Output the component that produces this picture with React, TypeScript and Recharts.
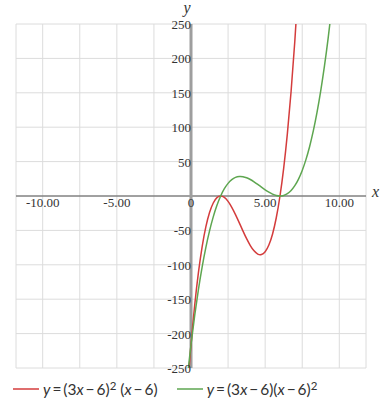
import React from 'react';
import { LineChart, Line, XAxis, YAxis, CartesianGrid, ReferenceLine, ReferenceDot } from 'recharts';

const xs = [-0.25, 0, 0.25, 0.5, 0.75, 1, 1.25, 1.5, 1.75, 2, 2.25, 2.5, 2.75, 3, 3.25, 3.5, 3.75, 4, 4.25, 4.5, 4.75, 5, 5.25, 5.5, 5.75, 6, 6.25, 6.5, 6.75, 7, 7.25, 7.5, 7.75, 8, 8.25, 8.5, 8.75, 9, 9.25, 9.5];
const redValues = [-284.77, -216, -158.48, -111.38, -73.83, -45, -24.05, -10.13, -2.39, 0, -2.11, -7.88, -16.45, -27, -38.67, -50.63, -62.02, -72, -79.73, -84.38, -85.08, -81, -71.3, -55.13, -31.64, 0, 40.64, 91.13, 152.3, 225, 310.08, 408.38];
const greenValues = [-263.67, -216, -173.58, -136.13, -103.36, -75, -50.77, -30.38, -13.55, 0, 10.55, 18.38, 23.77, 27, 28.36, 28.13, 26.58, 24, 20.67, 16.88, 12.89, 9, 5.48, 2.63, 0.7, 0, 0.8, 3.38, 8.02, 15, 24.61, 37.13, 52.83, 72, 94.92, 121.88, 153.14, 189, 229.73, 275.63];

const xDomain = [-11.8, 11.8];
const yDomain = [-250, 250];
const gridXTicks = [-10, -7.5, -5, -2.5, 0, 2.5, 5, 7.5, 10];
const gridYTicks = [-250, -200, -150, -100, -50, 0, 50, 100, 150, 200, 250];
const xLabelTicks = [-10, -5, 0, 5, 10];
const xLabelTexts = ['-10.00', '-5.00', '0', '5.00', '10.00'];
const yLabelTicks = [-250, -200, -150, -100, -50, 50, 100, 150, 200, 250];

const RED = '#d43c3c';
const GREEN = '#5ea650';

const data = xs.map((x, i) => ({
  x,
  red: i < redValues.length ? redValues[i] : null,
  green: i < greenValues.length ? greenValues[i] : null,
}));

const PlotText = (props: any) => {
  const { viewBox, text, dx = 0, dy = 0, anchor = 'middle', size = 13, italic = false, family = '"Liberation Serif", serif' } = props;
  const vb = viewBox || { x: 0, y: 0 };
  return (
    <text
      x={vb.x + (vb.width || 0) / 2 + dx}
      y={vb.y + (vb.height || 0) / 2 + dy}
      textAnchor={anchor}
      fontSize={size}
      fontFamily={family}
      fontStyle={italic ? 'italic' : 'normal'}
      fill="#333"
    >
      {text}
    </text>
  );
};

const Formula = ({ first }: { first: boolean }) => (
  <span style={{ fontFamily: 'Lato, "Noto Sans", sans-serif', fontSize: 15.5, color: '#333', whiteSpace: 'nowrap' }}>
    <i>y</i>{'\u2009=\u2009'}(3<i>x</i>{'\u2009\u2212\u2009'}6)
    {first ? (
      <>
        <sup style={{ fontSize: 11.5, verticalAlign: '0.45em', lineHeight: 0 }}>2</sup>{' '}(<i>x</i>{'\u2009\u2212\u2009'}6)
      </>
    ) : (
      <>
        (<i>x</i>{'\u2009\u2212\u2009'}6)<sup style={{ fontSize: 11.5, verticalAlign: '0.45em', lineHeight: 0 }}>2</sup>
      </>
    )}
  </span>
);

const Swatch = ({ color }: { color: string }) => (
  <svg width={26} height={4} style={{ marginRight: 4, display: 'block' }}>
    <line x1={0} y1={2} x2={26} y2={2} stroke={color} strokeWidth={1.5} />
  </svg>
);

export default function App() {
  return (
    <div style={{ position: 'absolute', left: 0, top: 0, width: 384, height: 409 }}>
      <LineChart width={384} height={409} data={data} margin={{ top: 24, right: 18, bottom: 41, left: 16 }}>
        <CartesianGrid stroke="#dcdcdc" strokeWidth={1} />
        <XAxis type="number" dataKey="x" domain={xDomain} ticks={gridXTicks} hide allowDataOverflow />
        <YAxis type="number" domain={yDomain} ticks={gridYTicks} hide allowDataOverflow />
        <ReferenceLine y={0} stroke="#555" strokeWidth={1} />
        <ReferenceLine x={0} stroke="#9e9e9e" strokeWidth={3} />
        {xLabelTicks.map((t, i) => (
          <ReferenceDot key={'xl' + t} x={t} y={0} r={0} fill="none" stroke="none"
            label={<PlotText text={xLabelTexts[i]} dy={11} anchor="middle" />} />
        ))}
        {yLabelTicks.map((t) => (
          <ReferenceDot key={'yl' + t} x={0} y={t} r={0} fill="none" stroke="none"
            label={<PlotText text={String(t)} dx={0} dy={5} anchor="end" />} />
        ))}
        <ReferenceDot x={0} y={250} r={0} fill="none" stroke="none"
          label={<PlotText text="y" dx={-4} dy={-11} anchor="middle" size={16} italic />} />
        <ReferenceDot x={11.8} y={0} r={0} fill="none" stroke="none"
          label={<PlotText text="x" dx={6} dy={1} anchor="start" size={16} italic />} />
        <Line type="natural" dataKey="red" stroke={RED} strokeWidth={1.5} dot={false} isAnimationActive={false} connectNulls={false} />
        <Line type="natural" dataKey="green" stroke={GREEN} strokeWidth={1.5} dot={false} isAnimationActive={false} connectNulls={false} />
      </LineChart>
      <div style={{ position: 'absolute', left: 13, top: 378, height: 22, display: 'flex', alignItems: 'center' }}>
        <div style={{ display: 'flex', alignItems: 'center', marginRight: 19 }}>
          <Swatch color={RED} />
          <Formula first={true} />
        </div>
        <div style={{ display: 'flex', alignItems: 'center' }}>
          <Swatch color={GREEN} />
          <Formula first={false} />
        </div>
      </div>
    </div>
  );
}
